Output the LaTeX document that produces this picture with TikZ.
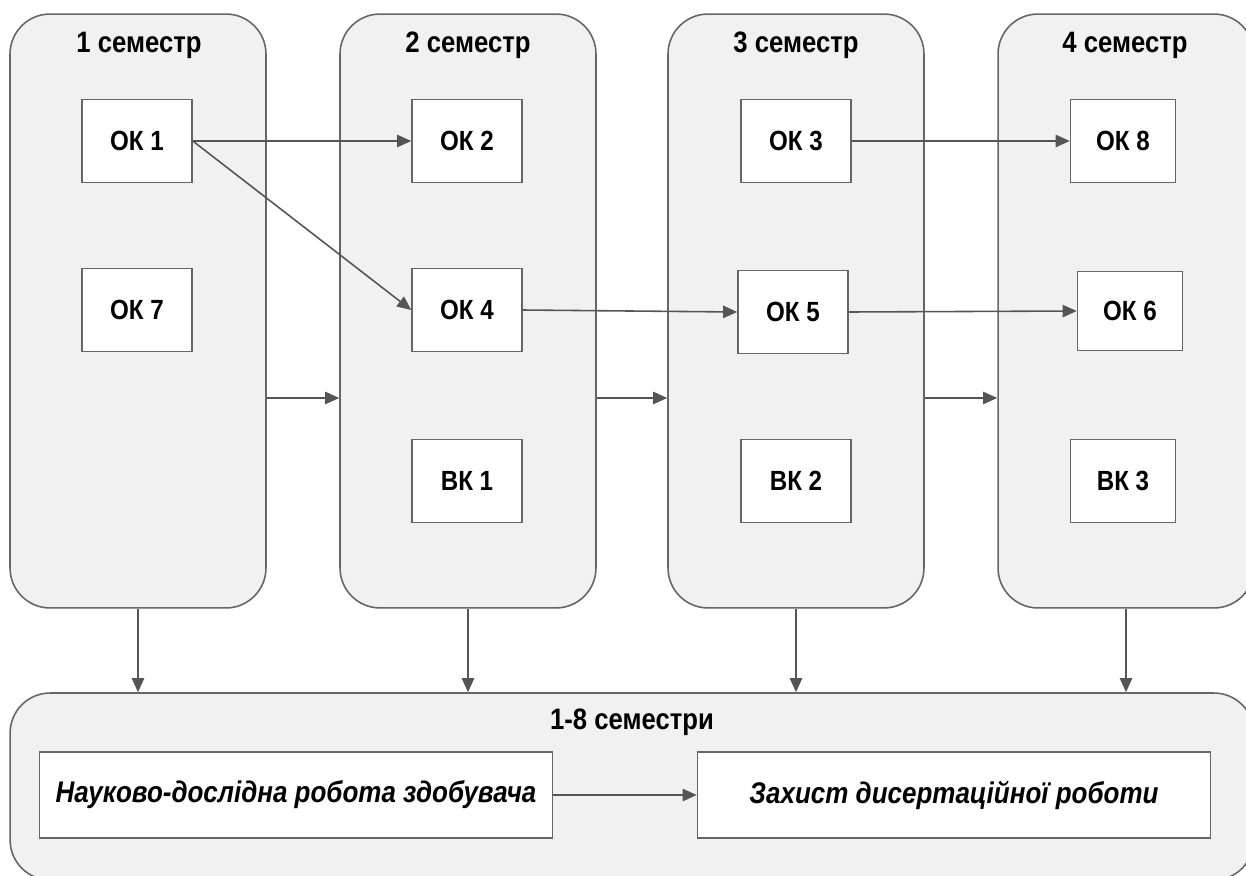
\documentclass[tikz,border=0pt]{standalone}
\usepackage{fontspec}
\setmainfont{Liberation Sans}[FakeStretch=0.87]
\usepackage{tikz}
\usetikzlibrary{arrows.meta}
\usetikzlibrary{positioning}
\definecolor{semfill}{HTML}{F1F1F1}
\definecolor{edgegray}{HTML}{666666}
\definecolor{arrowgray}{HTML}{555555}
\tikzset{
semester/.style={draw=edgegray,line width=0.9pt,fill=semfill,rounded corners=0.8cm,minimum width=5.12cm,minimum height=11.88cm,inner sep=0pt},
course/.style={draw=edgegray,line width=0.9pt,fill=white,minimum width=2.2cm,minimum height=1.66cm,inner sep=0pt,font=\fontsize{15.8}{18}\selectfont\bfseries},
title/.style={font=\fontsize{16.8}{19}\selectfont\bfseries,inner sep=0pt},
task/.style={draw=edgegray,line width=0.9pt,fill=white,minimum width=10.26cm,minimum height=1.72cm,inner sep=0pt,font=\fontsize{17}{19}\selectfont\bfseries\itshape},
arr/.style={arrowgray,line width=0.9pt,-{Triangle[length=8pt,width=7pt]}}
}
\begin{document}
\begin{tikzpicture}[x=0.02cm,y=-0.02cm]
    \useasboundingbox (0,0) rectangle (1246,875);
    %
    \node[semester](s1) at (138, 311) {};
    \node[semester](s2) at (468, 311) {};
    \node[semester](s3) at (796, 311) {};
    \node[semester](s4) at (1126, 311) {};
    \node[semester,minimum width=24.88cm,minimum height=3.74cm](all) at (632, 786.5) {};
    %
    \node[title](t1) at (139, 45) {1 семестр};
    \node[title](t2) at (468, 45) {2 семестр};
    \node[title](t3) at (796, 45) {3 семестр};
    \node[title](t4) at (1125, 45) {4 семестр};
    \node[title](t5) at (632, 722) {1-8 семестри};
    %
    \node[course](ok1) at (137, 141) {ОК 1};
    \node[course](ok7) at (137, 310) {ОК 7};
    \node[course](ok2) at (467, 141) {ОК 2};
    \node[course](ok4) at (467, 310) {ОК 4};
    \node[course](vk1) at (467, 481) {ВК 1};
    \node[course](ok3) at (796, 141) {ОК 3};
    \node[course](ok5) at (793, 312) {ОК 5};
    \node[course](vk2) at (796, 481) {ВК 2};
    \node[course,minimum width=2.1cm](ok8) at (1123, 141) {ОК 8};
    \node[course,minimum width=2.1cm,minimum height=1.58cm](ok6) at (1130, 311) {ОК 6};
    \node[course,minimum width=2.1cm](vk3) at (1123, 481) {ВК 3};
    %
    \node[task](ndr) at (296, 795) {Науково-дослідна робота здобувача};
    \node[task](zdr) at (954, 795) {Захист дисертаційної роботи};
    %
    \foreach \u / \v in {ok1/ok2,ok1/ok4,ok4/ok5,ok3/ok8,ok5/ok6,ndr/zdr}
    \draw[arr] (\u.east) -- (\v.west);
    %
    \foreach \u / \v in {s1/s2,s2/s3,s3/s4}
    \draw[arr] ([yshift=-1.74cm]\u.east) -- ([yshift=-1.74cm]\v.west);
    %
    \foreach \u in {s1,s2,s3,s4}
    \draw[arr] (\u.south) -- (\u.south |- all.north);
\end{tikzpicture}
\end{document}
